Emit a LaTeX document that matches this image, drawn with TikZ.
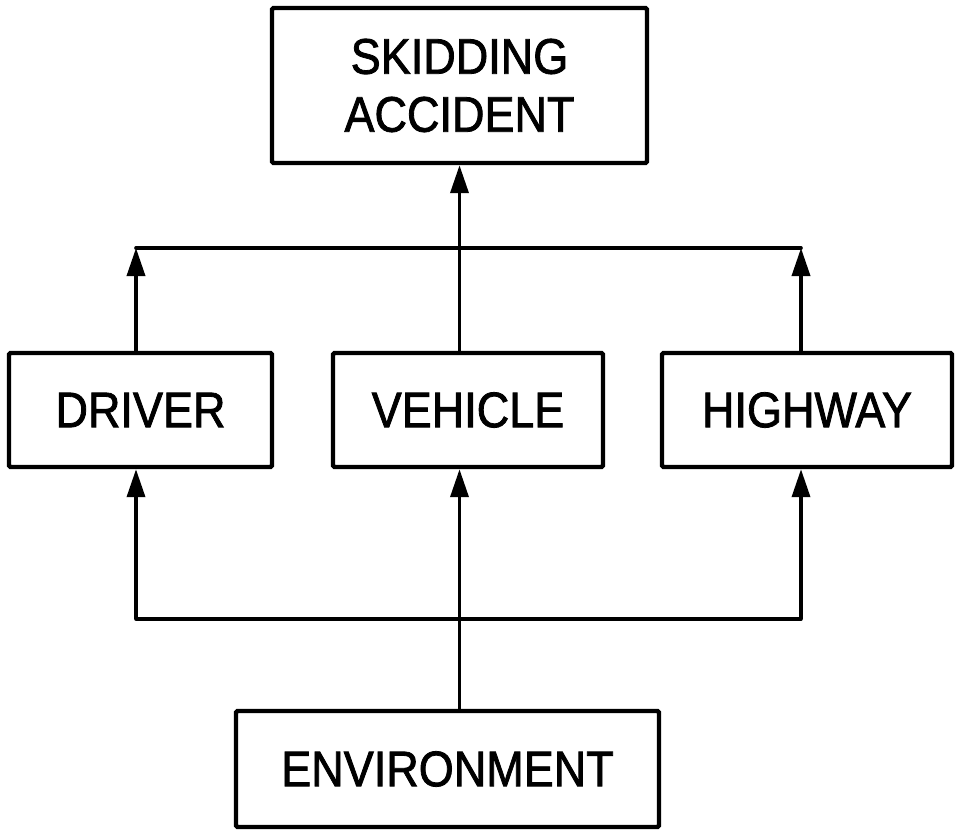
\documentclass[tikz,border=0pt]{standalone}
\usepackage{fontspec}
\setmainfont[FakeStretch=0.9,FakeBold=1.6,AutoFakeBold=1.6]{Liberation Sans}
\usetikzlibrary{arrows.meta}
\begin{document}
\begin{tikzpicture}[x=1pt,y=-1pt,
  box/.style={draw, line width=4.4pt, rectangle, rounded corners=1.5pt, inner sep=0pt, align=center,
    font=\fontsize{50}{58}\selectfont\bfseries},
  conn/.style={line width=3.6pt},
  arr/.style={conn, -{Triangle[length=28pt,width=18pt]}}]
\useasboundingbox (0,0) rectangle (958,832);
\node[box, minimum width=375pt, minimum height=155pt] (acc) at (459.5,85.5) {SKIDDING\\ACCIDENT};
\node[box, minimum width=263pt, minimum height=114pt] (drv) at (140.5,410) {DRIVER};
\node[box, minimum width=270pt, minimum height=114pt] (veh) at (468,410) {VEHICLE};
\node[box, minimum width=290pt, minimum height=114pt] (hwy) at (807,410) {HIGHWAY};
\node[box, minimum width=423pt, minimum height=116pt] (env) at (447.5,769) {ENVIRONMENT};
\coordinate (tl) at (136,248);
\coordinate (tr) at (801,248);
\coordinate (bl) at (136,619);
\coordinate (br) at (801,619);
\draw[arr] (drv.north -| tl) -- (tl);
\draw[arr] (hwy.north -| tr) -- (tr);
\draw[conn, line cap=round] (tl) -- (tr);
\draw[arr] (veh.north -| acc.south) -- (acc.south);
\draw[arr] (env.north -| acc.south) -- (veh.south -| acc.south);
\draw[conn, line cap=round] (bl) -- (br);
\draw[arr] (bl) -- (drv.south -| bl);
\draw[arr] (br) -- (hwy.south -| br);
\end{tikzpicture}
\end{document}
